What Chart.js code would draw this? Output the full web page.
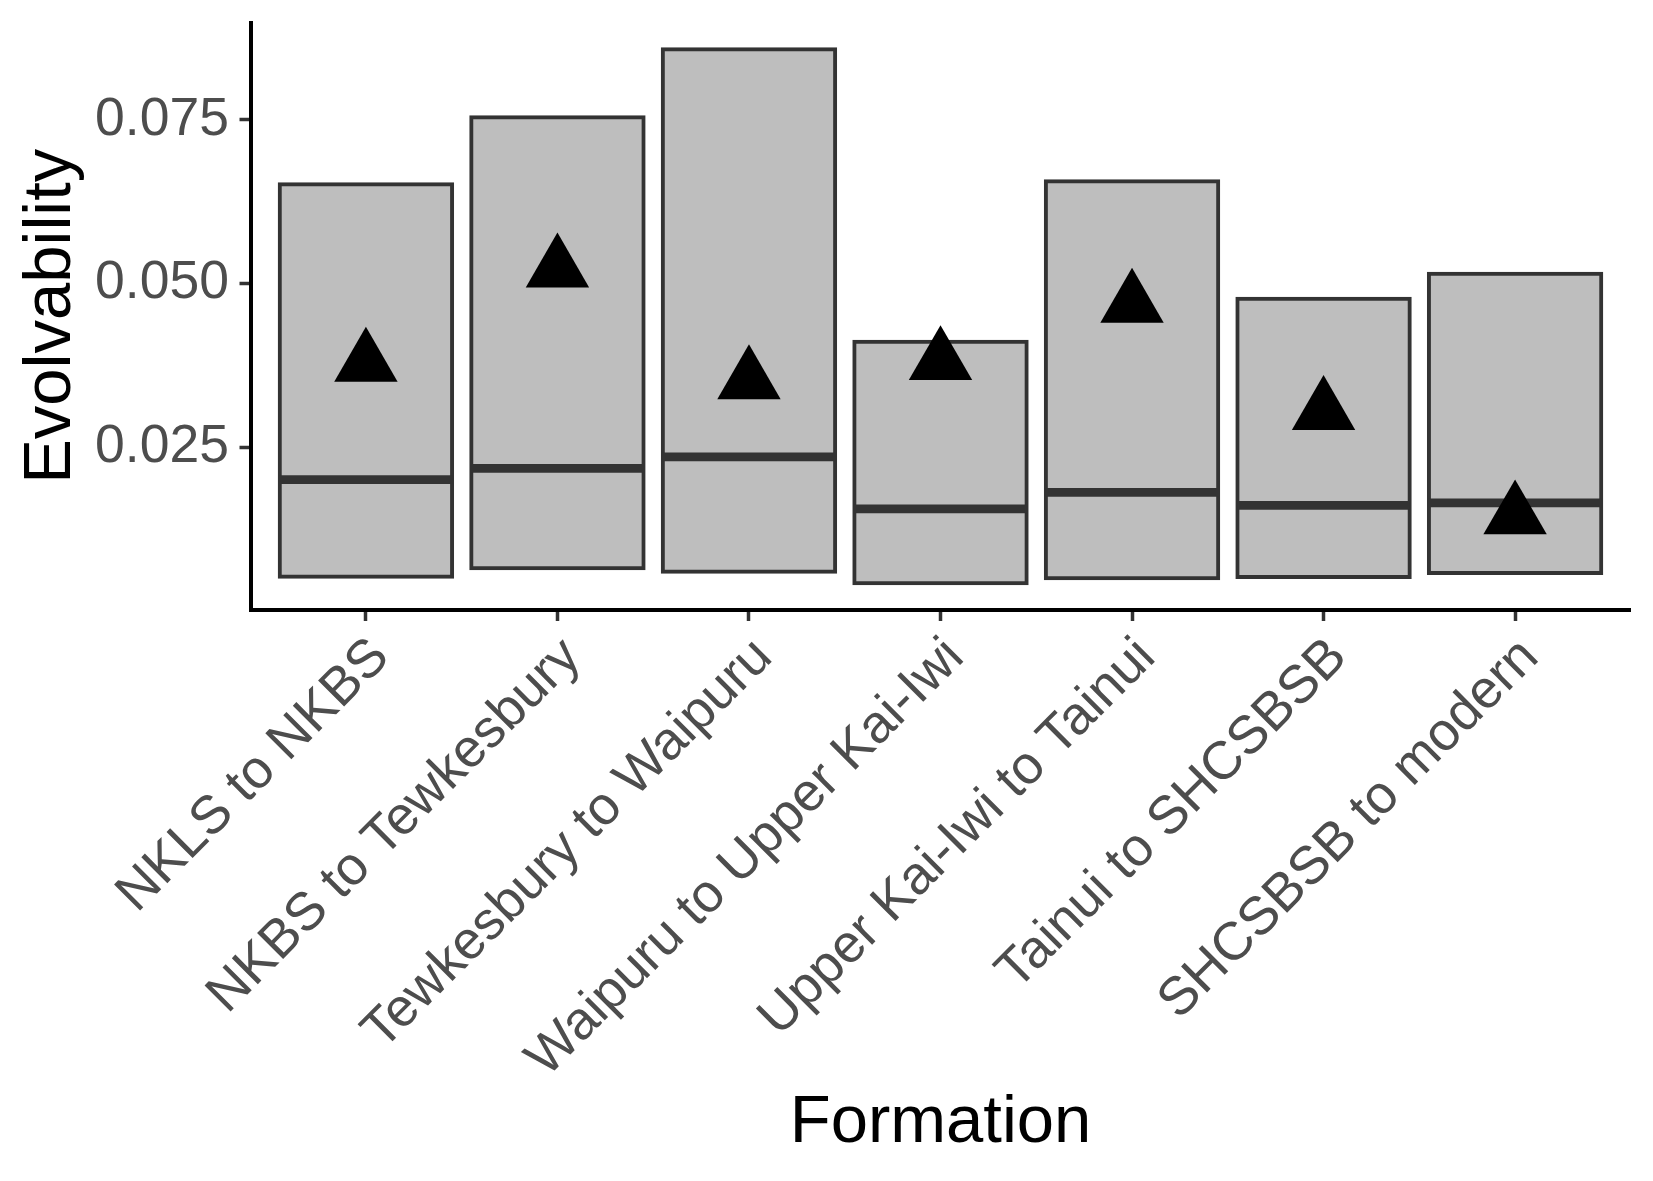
<!DOCTYPE html>
<html>
<head>
<meta charset="utf-8">
<script src="https://cdn.jsdelivr.net/npm/chart.js@4"></script>
<style>
  html, body { margin: 0; padding: 0; background: #ffffff; }
  #wrap { width: 1653px; height: 1181px; position: relative; }
</style>
</head>
<body>
<div id="wrap"><canvas id="chart"></canvas></div>
<script>
// ---- data ----
const categories = [
  'NKLS to NKBS',
  'NKBS to Tewkesbury',
  'Tewkesbury to Waipuru',
  'Waipuru to Upper Kai-Iwi',
  'Upper Kai-Iwi to Tainui',
  'Tainui to SHCSBSB',
  'SHCSBSB to modern'
];
const lowerValues  = [0.00525, 0.00653, 0.00601, 0.00424, 0.00500, 0.00522, 0.00583];
const upperValues  = [0.06518, 0.07540, 0.08578, 0.04112, 0.06564, 0.04768, 0.05150];
const medianValues = [0.02006, 0.02180, 0.02353, 0.01559, 0.01813, 0.01615, 0.01653];
const meanValues   = [0.03782, 0.05220, 0.03514, 0.03807, 0.04683, 0.03046, 0.01451];
const yTickValues  = [0.025, 0.050, 0.075];
const yTickLabels  = ['0.025', '0.050', '0.075'];
const xTitle = 'Formation';
const yTitle = 'Evolvability';

// ---- derived ----
const FONT = "'Liberation Sans', Arial, Helvetica, sans-serif";
const dataLo = Math.min(...lowerValues);
const dataHi = Math.max(...upperValues);
const pad = 0.05 * (dataHi - dataLo);
const BAR_FRAC = 0.9;

const boxData = categories.map((c, i) => ({ x: i, y: [lowerValues[i], upperValues[i]] }));
const medData = categories.map((c, i) => ({ x: i, y: medianValues[i] }));
const meanData = categories.map((c, i) => ({ x: i, y: meanValues[i] }));

function halfBar(ctx) {
  const s = ctx.chart.scales && ctx.chart.scales.x;
  if (!s) return 0;
  return Math.abs(s.getPixelForValue(1) - s.getPixelForValue(0)) * BAR_FRAC / 2;
}

const canvas = document.getElementById('chart');
new Chart(canvas, {
  type: 'bar',
  data: {
    datasets: [
      {
        type: 'bar',
        data: boxData,
        backgroundColor: '#BEBEBE',
        borderColor: '#333333',
        borderWidth: 4,
        borderSkipped: false,
        inflateAmount: 2,
        barPercentage: BAR_FRAC,
        categoryPercentage: 1,
        grouped: false,
        order: 3
      },
      {
        type: 'line',
        data: medData,
        showLine: false,
        pointStyle: 'line',
        pointRadius: halfBar,
        pointHoverRadius: halfBar,
        pointBorderWidth: 8.7,
        pointHoverBorderWidth: 8.7,
        pointBorderColor: '#333333',
        pointBackgroundColor: '#333333',
        clip: false,
        order: 2
      },
      {
        type: 'line',
        data: meanData,
        showLine: false,
        pointStyle: 'triangle',
        pointRadius: 36.6,
        pointHoverRadius: 36.6,
        pointBorderWidth: 0,
        pointHoverBorderWidth: 0,
        pointBackgroundColor: '#000000',
        pointBorderColor: '#000000',
        clip: false,
        order: 1
      }
    ]
  },
  options: {
    responsive: true,
    maintainAspectRatio: false,
    animation: false,
    events: [],
    layout: { autoPadding: false, padding: { top: 22.6, right: 23, bottom: 0, left: 0 } },
    plugins: { legend: { display: false }, tooltip: { enabled: false }, title: { display: false } },
    scales: {
      x: {
        type: 'linear',
        min: -0.6,
        max: categories.length - 1 + 0.6,
        offset: false,
        afterBuildTicks: (s) => { s.ticks = categories.map((c, i) => ({ value: i })); },
        afterFit: (s) => { s.height = 571; s.paddingLeft = 0; s.paddingRight = 0; },
        grid: { display: true, offset: false, drawOnChartArea: false, drawTicks: true, tickLength: 11, tickColor: '#333333', tickWidth: 3.5 },
        border: { display: true, color: '#000000', width: 4 },
        ticks: {
          autoSkip: false,
          minRotation: 45,
          maxRotation: 45,
          padding: 5,
          labelOffset: 15,
          color: '#4D4D4D',
          font: { family: FONT, size: 53.5 },
          callback: (v) => categories[Math.round(v)]
        },
        title: {
          display: true,
          text: xTitle,
          color: '#000000',
          font: { family: FONT, size: 67 },
          padding: { top: 0, bottom: 17 }
        }
      },
      y: {
        type: 'linear',
        min: dataLo - pad,
        max: dataHi + pad,
        afterBuildTicks: (s) => { s.ticks = yTickValues.map(v => ({ value: v })); },
        afterFit: (s) => { s.width = 251; s.paddingTop = 0; s.paddingBottom = 0; },
        grid: { display: true, drawOnChartArea: false, drawTicks: true, tickLength: 11.5, tickColor: '#333333', tickWidth: 3.5 },
        border: { display: true, color: '#000000', width: 4 },
        ticks: {
          padding: 10.5,
          color: '#4D4D4D',
          font: { family: FONT, size: 53.5 },
          callback: (v, i) => yTickLabels[i]
        },
        title: {
          display: true,
          text: yTitle,
          color: '#000000',
          font: { family: FONT, size: 67 },
          padding: { top: 11, bottom: 0 }
        }
      }
    }
  }
});
</script>
</body>
</html>
